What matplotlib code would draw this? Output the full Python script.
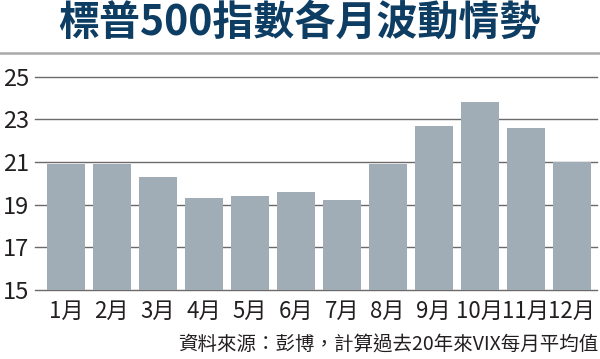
import matplotlib
matplotlib.use("Agg")
import matplotlib.pyplot as plt
from matplotlib.lines import Line2D

months = ["1月", "2月", "3月", "4月", "5月", "6月", "7月", "8月", "9月", "10月", "11月", "12月"]
vix_avg = [20.9, 20.9, 20.3, 19.3, 19.4, 19.6, 19.2, 20.9, 22.7, 23.8, 22.6, 21.0]
yticks = [15, 17, 19, 21, 23, 25]
title = "標普500指數各月波動情勢"
source = "資料來源：彭博，計算過去20年來VIX每月平均值"

plt.rcParams['font.family'] = ['Noto Sans CJK TC', 'DejaVu Sans']

fig = plt.figure(figsize=(6.0, 3.59), dpi=100)
W, H = 600, 359
ax = fig.add_axes([35 / W, 1 - 290 / H, (597 - 35) / W, (290 - 76.7) / H])

x = list(range(len(months)))
ax.bar(x, [v - 15 for v in vix_avg], bottom=15, width=0.835, color="#a0adb6", zorder=3)
ax.set_ylim(15, 25)
ax.set_xlim(-0.67, 11.55)
ax.set_yticks(yticks)
ax.set_yticklabels([str(t) for t in yticks], fontsize=17)
ax.set_xticks(x)
ax.set_xticklabels(months, fontsize=16)
ax.tick_params(axis='both', length=0, colors='#231f20')
ax.tick_params(axis='y', pad=4)
ax.tick_params(axis='x', pad=7)
for t in yticks:
    ax.axhline(t, color="#6d6a69", lw=1.0, zorder=1, clip_on=False)
for s in ax.spines.values():
    s.set_visible(False)

fig.text(299 / W, 1 - 23 / H, title, ha='center', va='center', fontsize=29.5,
         fontweight='bold', color='#0e3d63')
fig.add_artist(Line2D([0, 1], [1 - 53 / H, 1 - 53 / H], color='#a9a9a9', lw=1.8,
                      transform=fig.transFigure))
fig.text(598 / W, 1 - 345 / H, source, ha='right', va='center', fontsize=14,
         color='#231f20')

fig.savefig("out.png", dpi=100)
